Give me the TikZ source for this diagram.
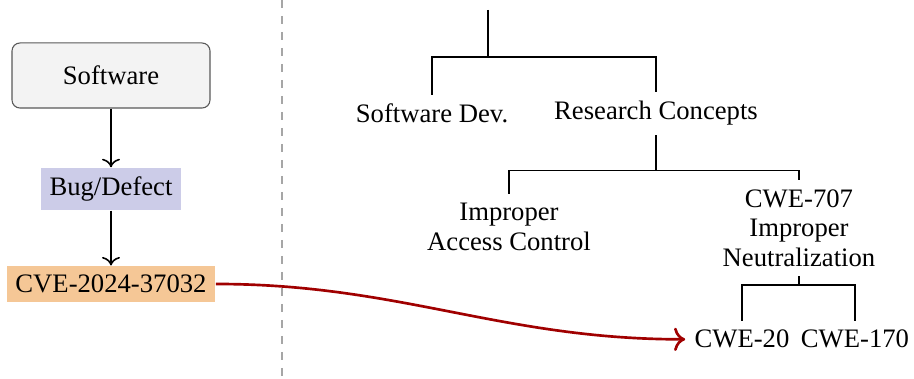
\documentclass[tikz,border=0pt]{standalone}
\usepackage{fontspec}
\setmainfont{Liberation Serif}
\usetikzlibrary{arrows.meta}
\definecolor{bugc}{RGB}{204,204,232}
\definecolor{cvec}{RGB}{245,199,150}
\definecolor{swc}{RGB}{243,243,243}
\definecolor{redc}{RGB}{160,0,0}
\begin{document}
\begin{tikzpicture}[x=0.375pt,y=-0.375pt,
  every node/.style={font=\fontsize{10}{11.1}\selectfont},
  swbox/.style={draw=black!65,fill=swc,rounded corners=3pt,minimum width=74.25pt,minimum height=24.4pt},
  bugbox/.style={fill=bugc},
  cvebox/.style={fill=cvec},
  lbl/.style={align=center},
  flow/.style={-{To[scale=1.1]},semithick},
  link/.style={-{To[scale=1.1]},line width=1pt,draw=redc},
  tree/.style={draw=black}]
\useasboundingbox (0,0) rectangle (914,379);
% left flow
\node[swbox] (sw) at (111,75.5) {Software};
\node[bugbox] (bug) at (111,189) {Bug/Defect};
\node[cvebox] (cve) at (111,284) {CVE-2024-37032};
\draw[flow] (sw) -- (bug);
\draw[flow] (bug) -- (cve);
% separator
\draw[gray!70,dashed] (282,0) -- (282,379);
% tree
\coordinate (root) at (488,10);
\node[lbl,anchor=base] (sd) at (432,123) {Software Dev.};
\node[lbl,anchor=base] (rc) at (656,120) {Research Concepts};
\node[lbl,anchor=north] (iac) at (509,194) {Improper\\Access Control};
\node[lbl,anchor=north] (cwe707) at (799,180) {CWE-707\\Improper\\Neutralization};
\node[lbl,anchor=base] (c20) at (742,348) {CWE-20};
\node[lbl,anchor=base] (c170) at (855,348) {CWE-170};
\draw[tree] (root) -- ++(0,47) coordinate (f1);
\draw[tree] (f1) -| (sd.north);
\draw[tree] (f1) -| (rc.north);
\draw[tree] (rc.south) -- ++(0,35) coordinate (f2);
\draw[tree] (f2) -| (iac.north);
\draw[tree] (f2) -| (cwe707.north);
\draw[tree] (cwe707.south) -- ++(0,9) coordinate (f3);
\draw[tree] (f3) -| (c20.north);
\draw[tree] (f3) -| (c170.north);
% mapping
\draw[link] (cve.east) to[out=0,in=180] (c20.west);
\end{tikzpicture}
\end{document}
